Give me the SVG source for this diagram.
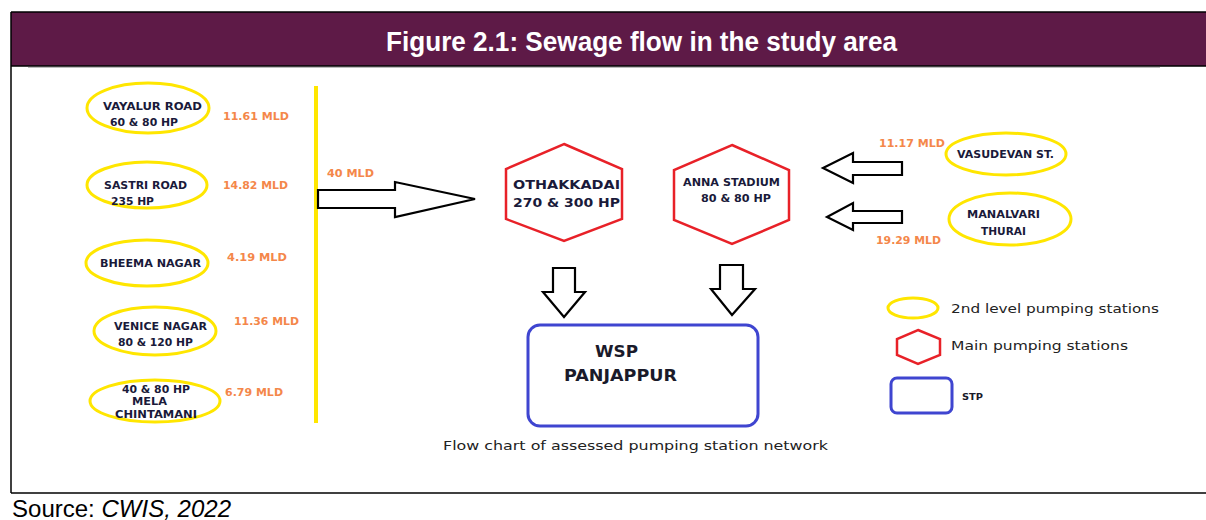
<svg xmlns="http://www.w3.org/2000/svg" width="1206" height="520" viewBox="0 0 1206 520">
<style>
.lbl{font-family:"DejaVu Sans",Verdana,sans-serif;font-weight:bold;font-size:10px;fill:#1a1a3a}
.hx{font-family:"DejaVu Sans",Verdana,sans-serif;font-weight:bold;font-size:12px;fill:#1a1a3a}
.mld{font-family:"DejaVu Sans",Verdana,sans-serif;font-weight:bold;font-size:10px;fill:#F4874A}
.ell{fill:none;stroke:#FFE600;stroke-width:3}
.hex{fill:none;stroke:#E82128;stroke-width:2.5}
.stp{fill:none;stroke:#3F45D0;stroke-width:3}
.arr{fill:#fff;stroke:#000;stroke-width:2.2;stroke-linejoin:miter}
.leg{font-family:"DejaVu Sans",Verdana,sans-serif;font-size:13px;fill:#222}
</style>
<rect x="0" y="0" width="1206" height="520" fill="#fff"/>
<g id="frame">
<rect x="11" y="12" width="1200" height="54" fill="#5E1A47"/>
<line x1="11" y1="12" x2="1206" y2="12" stroke="#000" stroke-width="1.5"/>
<line x1="11" y1="66" x2="1206" y2="66" stroke="#000" stroke-width="1.5"/>
<line x1="28" y1="67.5" x2="1160" y2="67.5" stroke="#bbb" stroke-width="1"/>
<line x1="11" y1="12" x2="11" y2="493" stroke="#000" stroke-width="1.5"/>
<line x1="11" y1="493" x2="1206" y2="493" stroke="#000" stroke-width="1.5"/>
<text x="386" y="51" textLength="511" lengthAdjust="spacingAndGlyphs" font-family="Liberation Sans, Arial, sans-serif" font-weight="bold" font-size="27" fill="#fff">Figure 2.1: Sewage flow in the study area</text>
<text x="12" y="517" textLength="219" lengthAdjust="spacingAndGlyphs" font-family="Liberation Sans, Arial, sans-serif" font-size="23" fill="#000">Source: <tspan font-style="italic">CWIS, 2022</tspan></text>
</g>
<g id="connectors">
<line x1="316" y1="86" x2="316" y2="423" stroke="#FFE600" stroke-width="4"/>
<polygon class="arr" points="318,190 395,190 395,182 475,199 395,217 395,208 318,208"/>
<polygon class="arr" points="902,162 853,162 853,153 823,168 853,183 853,175 902,175"/>
<polygon class="arr" points="902,211 853,211 853,203 827,217 853,230 853,223 902,223"/>
<polygon class="arr" points="553,268 575,268 575,292 585,292 564,317 543,292 553,292"/>
<polygon class="arr" points="720,265 743,265 743,289 755,289 732,315 711,289 720,289"/>
<text class="mld" x="327" y="177" textLength="47" lengthAdjust="spacingAndGlyphs">40 MLD</text>
<text class="mld" x="223" y="120" textLength="66" lengthAdjust="spacingAndGlyphs">11.61 MLD</text>
<text class="mld" x="223" y="189" textLength="65" lengthAdjust="spacingAndGlyphs">14.82 MLD</text>
<text class="mld" x="227" y="261" textLength="60" lengthAdjust="spacingAndGlyphs">4.19 MLD</text>
<text class="mld" x="234" y="325" textLength="65" lengthAdjust="spacingAndGlyphs">11.36 MLD</text>
<text class="mld" x="225" y="396" textLength="58" lengthAdjust="spacingAndGlyphs">6.79 MLD</text>
<text class="mld" x="879" y="147" textLength="66" lengthAdjust="spacingAndGlyphs">11.17 MLD</text>
<text class="mld" x="876" y="244" textLength="65" lengthAdjust="spacingAndGlyphs">19.29 MLD</text>
</g>
<g id="vayalur">
<ellipse class="ell" cx="148" cy="108" rx="61" ry="25"/>
<text class="lbl" x="103" y="110" textLength="99" lengthAdjust="spacingAndGlyphs">VAYALUR ROAD</text>
<text class="lbl" x="110" y="126" textLength="68" lengthAdjust="spacingAndGlyphs">60 &amp; 80 HP</text>
</g>
<g id="sastri">
<ellipse class="ell" cx="147" cy="185" rx="60" ry="23"/>
<text class="lbl" x="104" y="189" textLength="83" lengthAdjust="spacingAndGlyphs">SASTRI ROAD</text>
<text class="lbl" x="111" y="205" textLength="43" lengthAdjust="spacingAndGlyphs">235 HP</text>
</g>
<g id="bheema">
<ellipse class="ell" cx="147" cy="263" rx="61" ry="23"/>
<text class="lbl" x="100" y="267" textLength="101" lengthAdjust="spacingAndGlyphs">BHEEMA NAGAR</text>
</g>
<g id="venice">
<ellipse class="ell" cx="155" cy="331" rx="61" ry="24"/>
<text class="lbl" x="114" y="330" textLength="93" lengthAdjust="spacingAndGlyphs">VENICE NAGAR</text>
<text class="lbl" x="118" y="346" textLength="75" lengthAdjust="spacingAndGlyphs">80 &amp; 120 HP</text>
</g>
<g id="mela">
<ellipse class="ell" cx="155" cy="401" rx="65" ry="21"/>
<text class="lbl" x="122" y="393" textLength="68" lengthAdjust="spacingAndGlyphs">40 &amp; 80 HP</text>
<text class="lbl" x="132" y="405" textLength="35" lengthAdjust="spacingAndGlyphs">MELA</text>
<text class="lbl" x="115" y="418" textLength="82" lengthAdjust="spacingAndGlyphs">CHINTAMANI</text>
</g>
<g id="othakkadai">
<polygon class="hex" points="564,144 622,169 622,219 564,241 506,219 506,169"/>
<text class="hx" x="513" y="189" textLength="107" lengthAdjust="spacingAndGlyphs">OTHAKKADAI</text>
<text class="hx" x="513" y="207" textLength="107" lengthAdjust="spacingAndGlyphs">270 &amp; 300 HP</text>
</g>
<g id="anna">
<polygon class="hex" points="732,145 789,170 789,220 732,244 674,220 674,170"/>
<text class="lbl" x="683" y="186" textLength="97" lengthAdjust="spacingAndGlyphs">ANNA STADIUM</text>
<text class="lbl" x="701" y="202" textLength="70" lengthAdjust="spacingAndGlyphs">80 &amp; 80 HP</text>
</g>
<g id="vasudevan">
<ellipse class="ell" cx="1006" cy="154" rx="60" ry="21"/>
<text class="lbl" x="957" y="158" textLength="97" lengthAdjust="spacingAndGlyphs">VASUDEVAN ST.</text>
</g>
<g id="manalvari">
<ellipse class="ell" cx="1010" cy="219" rx="61" ry="26"/>
<text class="lbl" x="967" y="218" textLength="73" lengthAdjust="spacingAndGlyphs">MANALVARI</text>
<text class="lbl" x="981" y="235" textLength="45" lengthAdjust="spacingAndGlyphs">THURAI</text>
</g>
<g id="wsp">
<rect class="stp" x="528" y="325" width="230" height="101" rx="12"/>
<text x="595" y="357" textLength="43" lengthAdjust="spacingAndGlyphs" font-family="DejaVu Sans, Verdana, sans-serif" font-weight="bold" font-size="15" fill="#1a1a2a">WSP</text>
<text x="564" y="381" textLength="113" lengthAdjust="spacingAndGlyphs" font-family="DejaVu Sans, Verdana, sans-serif" font-weight="bold" font-size="15" fill="#1a1a2a">PANJAPPUR</text>
</g>
<g id="caption">
<text class="leg" x="443" y="450" textLength="385" lengthAdjust="spacingAndGlyphs">Flow chart of assessed pumping station network</text>
</g>
<g id="legend">
<ellipse class="ell" cx="913" cy="308" rx="25" ry="10"/>
<text class="leg" x="951" y="313" textLength="208" lengthAdjust="spacingAndGlyphs">2nd level pumping stations</text>
<polygon class="hex" points="918,330 940,339 940,355 918,364 897,355 897,339"/>
<text class="leg" x="951" y="350" textLength="177" lengthAdjust="spacingAndGlyphs">Main pumping stations</text>
<rect class="stp" x="891" y="378" width="61" height="35" rx="6"/>
<text x="962" y="400" textLength="21" lengthAdjust="spacingAndGlyphs" font-family="DejaVu Sans, Verdana, sans-serif" font-weight="bold" font-size="9" fill="#1a1a2a">STP</text>
</g>
</svg>
